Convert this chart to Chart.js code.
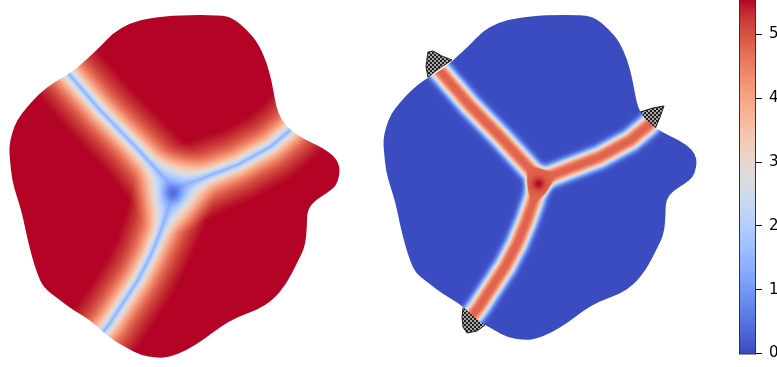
<!DOCTYPE html>
<html>
  <head>
    <title>Triple junction fields</title>
    <script src="https://cdn.jsdelivr.net/npm/chart.js"></script>
    <style>
      body { margin: 0; width: 777px; height: 367px; overflow: hidden; background: #fff; position: relative; }
      #fields { position: absolute; left: 0; top: 0; }
      #cbar { position: absolute; left: 739px; top: 0; }
    </style>
  </head>

  <body>
    <canvas id="fields" width="777" height="367"></canvas>
    <canvas id="cbar" width="60" height="367"></canvas>
    <script>
      // specimen outline (domain units)
      var outlineX = [150, 180, 220, 233, 247, 258, 267, 272, 275, 278, 285, 297, 310, 323, 335, 340, 339, 336, 327, 313, 307, 307, 305, 297, 287, 273, 257, 237, 220, 203, 187, 170, 157, 140, 127, 113, 103, 90, 73, 57, 43, 37, 32, 27, 22, 17, 12, 10, 9, 12, 17, 27, 40, 53, 67, 77, 88, 100, 113, 130];
      var outlineY = [18, 15, 15, 18, 30, 43, 63, 83, 100, 113, 125, 135, 142, 148, 157, 167, 177, 186, 193, 202, 212, 227, 247, 263, 283, 300, 310, 317, 327, 340, 350, 357, 358, 355, 348, 340, 332, 320, 310, 298, 287, 273, 257, 237, 213, 197, 180, 160, 147, 133, 120, 107, 93, 83, 75, 68, 58, 47, 33, 23];

      // triple junction and the three grain boundaries leaving it
      var junction = [173, 193];
      var branchTop = [[173, 193], [167, 181], [133, 144], [100, 110], [68, 73], [55, 58]];
      var branchRight = [[173, 193], [180, 187], [203, 178], [237, 165], [270, 147], [288, 132], [302, 116]];
      var branchBottom = [[173, 193], [167, 213], [160, 233], [150, 257], [138, 280], [123, 303], [110, 323], [103, 332], [94, 346]];
      var branches = [branchTop, branchRight, branchBottom];

      // masked tips on the right-hand field
      var hatchTopX = [56.3, 61.6, 71.1, 81.6, 65.8, 56.3, 54.2];
      var hatchTopY = [54.1, 53.0, 58.3, 62.5, 73.1, 80.9, 68.9];
      var hatchRightX = [280.0, 293.7, 305.3, 301.1, 296.8, 292.6, 285.2];
      var hatchRightY = [117.4, 113.1, 111.0, 122.6, 133.1, 140.5, 127.9];
      var hatchBottomX = [93.3, 100.7, 116.5, 108.0, 97.5, 93.3, 92.2];
      var hatchBottomY = [324.1, 323.1, 342.1, 348.4, 350.5, 344.2, 333.6];

      // colour bar
      var cbarTicks = [0, 1, 2, 3, 4, 5];
      var cbarMax = 5.54;

      var coolwarm = [
        [59, 76, 192], [68, 90, 204], [77, 104, 215], [87, 117, 225], [98, 130, 234], [108, 142, 241],
        [119, 154, 247], [130, 165, 251], [141, 176, 254], [152, 185, 255], [163, 194, 255], [174, 201, 253],
        [184, 208, 249], [194, 213, 244], [204, 217, 238], [213, 219, 230], [221, 221, 221], [229, 216, 209],
        [236, 211, 197], [241, 204, 185], [245, 196, 173], [247, 187, 160], [247, 177, 148], [247, 166, 135],
        [244, 154, 123], [241, 141, 111], [236, 127, 99], [229, 112, 88], [222, 96, 77], [213, 80, 66],
        [203, 62, 56], [192, 40, 47], [180, 4, 38]
      ];

      function cmap(v) {
        var t = Math.min(1, Math.max(0, v / cbarMax));
        var f = t * (coolwarm.length - 1);
        var i = Math.min(coolwarm.length - 2, Math.floor(f));
        var u = f - i;
        var a = coolwarm[i], b = coolwarm[i + 1];
        return [a[0] + (b[0] - a[0]) * u, a[1] + (b[1] - a[1]) * u, a[2] + (b[2] - a[2]) * u];
      }

      function distToPath(path, x, y) {
        var best = Infinity;
        for (var k = 0; k < path.length - 1; k++) {
          var ax = path[k][0], ay = path[k][1];
          var dx = path[k + 1][0] - ax, dy = path[k + 1][1] - ay;
          var u = ((x - ax) * dx + (y - ay) * dy) / (dx * dx + dy * dy);
          u = u < 0 ? 0 : u > 1 ? 1 : u;
          var ex = ax + u * dx - x, ey = ay + u * dy - y;
          var d = ex * ex + ey * ey;
          if (d < best) best = d;
        }
        return Math.sqrt(best);
      }

      // order-parameter like field: high inside grains, dips on boundaries
      function leftField(x, y) {
        var rj = Math.hypot(x - junction[0], y - junction[1]);
        var near = Math.exp(-(rj * rj) / 1600);
        var lam = 12 + 5 * near;
        var reach = 38 + 10 * near;
        var floor = Math.exp(-reach / lam);
        var keep = 1;
        branches.forEach(function (b) {
          var d = distToPath(b, x, y);
          if (d < reach) keep *= 1 - (Math.exp(-d / lam) - floor) / (1 - floor);
        });
        var t = 1 - 0.75 * (1 - keep) - 0.17 * Math.exp(-(rj * rj) / 100);
        return t * cbarMax;
      }

      // boundary energy like field: peaks on boundaries, max at the junction
      function rightField(x, y) {
        var rj = Math.hypot(x - junction[0], y - junction[1]);
        var g = 0;
        branches.forEach(function (b) {
          var d = distToPath(b, x, y);
          g += Math.exp(-Math.pow(d / 10.5, 3));
        });
        if (g > 1) g = 1;
        return (0.87 * g + 0.13 * Math.exp(-(rj * rj) / 50)) * cbarMax;
      }

      function smoothPath(ctx, px, py) {
        var n = px.length;
        ctx.beginPath();
        ctx.moveTo((px[n - 1] + px[0]) / 2, (py[n - 1] + py[0]) / 2);
        for (var i = 0; i < n; i++) {
          var j = (i + 1) % n;
          ctx.quadraticCurveTo(px[i], py[i], (px[i] + px[j]) / 2, (py[i] + py[j]) / 2);
        }
        ctx.closePath();
      }

      function hatchPattern(ctx) {
        var c = document.createElement("canvas");
        c.width = 4;
        c.height = 4;
        var p = c.getContext("2d");
        p.fillStyle = "#a8a8a8";
        p.fillRect(0, 0, 4, 4);
        p.fillStyle = "#1e1e1e";
        p.fillRect(0, 0, 2, 2);
        p.fillRect(2, 2, 2, 2);
        return ctx.createPattern(c, "repeat");
      }

      function drawPanel(chart, xid, yid, field, masked) {
        var sx = chart.scales[xid], sy = chart.scales[yid];
        var ctx = chart.ctx;
        var px = outlineX.map(function (v) { return sx.getPixelForValue(v); });
        var py = outlineY.map(function (v) { return sy.getPixelForValue(v); });

        if (masked) {
          var pat = hatchPattern(ctx);
          [[hatchTopX, hatchTopY], [hatchRightX, hatchRightY], [hatchBottomX, hatchBottomY]].forEach(function (h) {
            ctx.beginPath();
            h[0].forEach(function (v, i) {
              var x = sx.getPixelForValue(v), y = sy.getPixelForValue(h[1][i]);
              if (i === 0) ctx.moveTo(x, y); else ctx.lineTo(x, y);
            });
            ctx.closePath();
            ctx.fillStyle = pat;
            ctx.fill();
            ctx.strokeStyle = "#222";
            ctx.lineWidth = 1;
            ctx.stroke();
          });
        }

        var x0 = Math.floor(Math.min.apply(null, px)) - 2;
        var x1 = Math.ceil(Math.max.apply(null, px)) + 2;
        var y0 = Math.floor(Math.min.apply(null, py)) - 2;
        var y1 = Math.ceil(Math.max.apply(null, py)) + 2;
        var w = x1 - x0, h = y1 - y0;
        var off = document.createElement("canvas");
        off.width = w;
        off.height = h;
        var octx = off.getContext("2d");
        var img = octx.createImageData(w, h);
        for (var j = 0; j < h; j++) {
          var vy = sy.getValueForPixel(y0 + j + 0.5);
          for (var i = 0; i < w; i++) {
            var vx = sx.getValueForPixel(x0 + i + 0.5);
            var c = cmap(field(vx, vy));
            var k = (j * w + i) * 4;
            img.data[k] = c[0];
            img.data[k + 1] = c[1];
            img.data[k + 2] = c[2];
            img.data[k + 3] = 255;
          }
        }
        octx.putImageData(img, 0, 0);

        ctx.save();
        smoothPath(ctx, px, py);
        ctx.clip();
        ctx.drawImage(off, x0, y0);
        ctx.restore();
      }

      var fieldPlugin = {
        id: "fieldPlugin",
        beforeDatasetsDraw: function (chart) {
          drawPanel(chart, "x1", "y1", leftField, false);
          drawPanel(chart, "x2", "y2", rightField, true);
        },
      };

      var hidden = { type: "linear", display: false };
      new Chart(document.getElementById("fields").getContext("2d"), {
        type: "scatter",
        data: { datasets: [] },
        options: {
          responsive: false,
          animation: false,
          devicePixelRatio: 1,
          layout: { padding: 0 },
          plugins: { legend: { display: false }, tooltip: { enabled: false } },
          scales: {
            x1: Object.assign({ axis: "x", min: 0, max: 777 }, hidden),
            y1: Object.assign({ axis: "y", min: 0, max: 367, reverse: true }, hidden),
            x2: Object.assign({ axis: "x", min: -395.14, max: 424.48 }, hidden),
            y2: Object.assign({ axis: "y", min: -0.78, max: 386.35, reverse: true }, hidden),
          },
        },
        plugins: [fieldPlugin],
      });

      var cbarPlugin = {
        id: "cbarPlugin",
        beforeDatasetsDraw: function (chart) {
          var a = chart.chartArea, s = chart.scales.y, ctx = chart.ctx;
          for (var y = Math.floor(a.top); y < Math.ceil(a.bottom); y++) {
            var c = cmap(s.getValueForPixel(y + 0.5));
            ctx.fillStyle = "rgb(" + Math.round(c[0]) + "," + Math.round(c[1]) + "," + Math.round(c[2]) + ")";
            ctx.fillRect(a.left, y, a.right - a.left, 1);
          }
          ctx.strokeStyle = "#333";
          ctx.lineWidth = 1;
          ctx.strokeRect(a.left + 0.5, a.top - 1, a.right - a.left - 1, a.bottom - a.top + 1.5);
        },
      };

      new Chart(document.getElementById("cbar").getContext("2d"), {
        type: "scatter",
        data: { datasets: [] },
        options: {
          responsive: false,
          animation: false,
          devicePixelRatio: 1,
          layout: { padding: { top: 0, bottom: 13.5, left: 0, right: 0 } },
          plugins: { legend: { display: false }, tooltip: { enabled: false } },
          scales: {
            x: { type: "linear", display: false },
            y: {
              type: "linear",
              position: "right",
              min: 0,
              max: cbarMax,
              afterBuildTicks: function (s) {
                s.ticks = cbarTicks.map(function (v) { return { value: v }; });
              },
              afterFit: function (s) {
                s.width = 43;
                s.paddingTop = 0;
                s.paddingBottom = 0;
              },
              border: { display: false },
              grid: { drawOnChartArea: false, drawTicks: true, tickLength: 6, color: "#000", lineWidth: 1 },
              ticks: { color: "#000", padding: 7, font: { family: "DejaVu Sans", size: 15 } },
            },
          },
        },
        plugins: [cbarPlugin],
      });
    </script>
  </body>
</html>
